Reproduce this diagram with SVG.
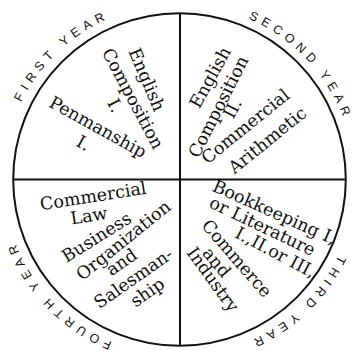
<svg xmlns="http://www.w3.org/2000/svg" width="355" height="351" viewBox="0 0 355 351">
<style>
.ring{fill:none;stroke:#111;stroke-width:2}
.div{stroke:#111;stroke-width:2}
.yr{font-family:"Liberation Sans",Arial,sans-serif;font-size:12.5px;letter-spacing:5.2px;fill:#111;text-anchor:middle}
.t{font-family:"DejaVu Serif","Liberation Serif",serif;font-size:17.5px;fill:#111;text-anchor:middle}
</style>
<defs>
<path id="arc1" d="M 6.4 147.4 A 176 176 0 0 1 150.5 5.9"/>
<path id="arc2" d="M 209.9 7.2 A 175 175 0 0 1 353.8 164.2"/>
<path id="arc3" d="M 352.7 211 A 176 176 0 0 1 209.2 353"/>
<path id="arc4" d="M 147.7 352.6 A 176 176 0 0 1 6 208.9"/>
</defs>
<g id="frame">
<circle class="ring" cx="179.5" cy="179.5" r="166.3"/>
<line class="div" x1="180" y1="13" x2="180" y2="346"/>
<line class="div" x1="13" y1="179.5" x2="346" y2="179.5"/>
</g>
<g id="year-labels">
<text class="yr"><textPath href="#arc1" startOffset="110.1">FIRST YEAR</textPath></text>
<text class="yr" style="letter-spacing:4.9px"><textPath href="#arc2" startOffset="112.4">SECOND YEAR</textPath></text>
<text class="yr"><textPath href="#arc3" startOffset="110.1">THIRD YEAR</textPath></text>
<text class="yr"><textPath href="#arc4" startOffset="110.1">FOURTH YEAR</textPath></text>
</g>
<g id="first-year">
<text class="t" transform="translate(146,80) rotate(67)" y="5">English</text>
<text class="t" transform="translate(132,99) rotate(62)" y="5">Composition</text>
<text class="t" transform="translate(114,106) rotate(62)" y="5">I.</text>
<text class="t" transform="translate(97.5,128) rotate(29)" y="5">Penmanship</text>
<text class="t" transform="translate(83,144) rotate(29)" y="5">I.</text>
</g>
<g id="second-year">
<text class="t" transform="translate(211,78) rotate(-61)" y="5">English</text>
<text class="t" transform="translate(219.2,107.1) rotate(-63)" y="5">Composition</text>
<text class="t" transform="translate(233.3,108.9) rotate(-63)" y="5">II.</text>
<text class="t" transform="translate(246,127) rotate(-39)" y="5">Commercial</text>
<text class="t" transform="translate(268,141) rotate(-39)" y="5">Arithmetic</text>
</g>
<g id="fourth-year">
<text class="t" transform="translate(93.3,197) rotate(-9)" y="5">Commercial</text>
<text class="t" transform="translate(89,216.7) rotate(-9)" y="5">Law</text>
<text class="t" transform="translate(97,238) rotate(-32)" y="5">Business</text>
<text class="t" transform="translate(124,241) rotate(-39)" y="5">Organization</text>
<text class="t" transform="translate(122,263) rotate(-35)" y="5">and</text>
<text class="t" transform="translate(134,279) rotate(-35)" y="5">Salesman-</text>
<text class="t" transform="translate(148,293) rotate(-35)" y="5">ship</text>
</g>
<g id="third-year">
<text class="t" transform="translate(274,213) rotate(24)" y="5">Bookkeeping I,</text>
<text class="t" transform="translate(262,227) rotate(25.5)" y="5">or Literature</text>
<text class="t" transform="translate(275,253) rotate(28)" y="5">I.,II.or III,</text>
<text class="t" transform="translate(236,259) rotate(49)" y="5">Commerce</text>
<text class="t" transform="translate(216,263) rotate(50)" y="5">and</text>
<text class="t" transform="translate(212,280) rotate(54)" y="5">Industry</text>
</g>
</svg>
